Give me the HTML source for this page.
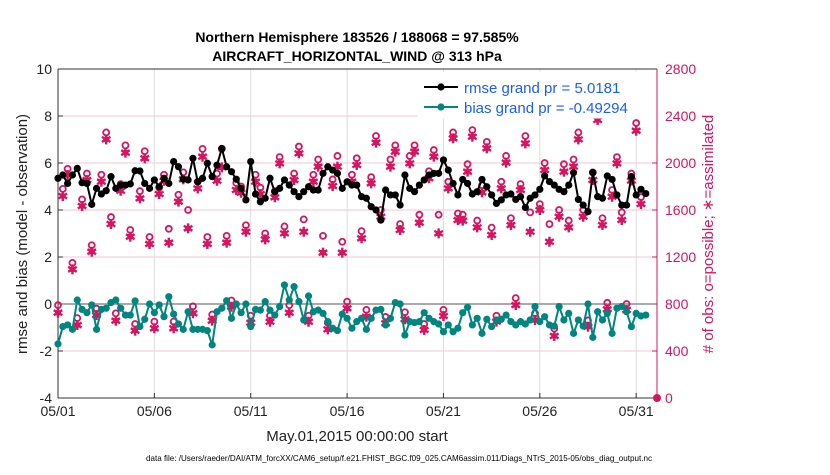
<!DOCTYPE html>
<html><head><meta charset="utf-8"><style>
body{margin:0;background:#fff;font-family:"Liberation Sans",Arial,sans-serif}
svg text{font-family:"Liberation Sans",Arial,sans-serif}
</style></head><body>
<svg id="chart" width="830" height="470" xmlns="http://www.w3.org/2000/svg"></svg>
<script>
const rmse=[5.35,5.49,5.13,5.49,5.77,5.16,5.13,4.24,4.92,4.68,4.82,5.42,4.92,5.06,5.06,5.11,5.67,5.66,5.13,4.92,5.28,4.99,5.35,5.13,6.06,5.84,5.31,5.28,6.2,5.2,5.35,5.99,5.42,5.91,6.62,5.84,5.63,5.31,4.92,4.43,6.06,4.68,4.35,
4.5,5.35,4.78,4.92,5.28,5.06,4.78,4.57,4.78,4.99,4.85,4.85,5.56,5.84,5.70,5.56,4.92,5.2,5.06,5.06,4.57,4.5,4.14,4.0,3.57,4.85,4.64,4.64,4.21,5.49,4.92,4.78,5.06,5.28,5.49,5.56,5.56,6.13,5.70,5.13,4.64,
5.3,5.13,4.68,4.78,5.3,4.99,4.64,4.28,4.43,4.64,4.68,4.45,4.57,4.11,4.5,4.64,4.88,5.45,5.21,5.06,4.88,4.78,5.06,5.59,4.45,4.21,3.93,5.59,4.57,4.5,5.45,5.3,4.64,4.21,4.21,5.42,4.64,4.88,4.70];
const bias=[-1.70,-0.96,-0.89,-1.08,0.17,-0.23,-0.37,-0.04,-1.08,-0.23,-0.18,0.06,0.17,-0.18,-0.47,-0.47,0.13,-0.96,-0.65,0.0,-0.37,-0.04,-0.54,0.31,-0.43,-0.85,-1.08,-0.33,-1.08,-1.08,-1.08,-1.13,-1.74,-0.33,-0.18,0.14,-0.61,0.0,-0.37,0.0,-0.96,-0.23,-0.26,
0.10,-0.26,-0.47,-0.11,0.81,0.17,0.74,0.10,-0.68,0.34,-0.33,-0.26,-0.40,-0.75,-1.03,-1.13,-0.43,-0.61,-1.03,-0.75,-0.61,-1.08,-0.61,-0.26,-0.23,-0.89,-0.61,0.06,0.0,-1.32,-0.75,-0.79,-0.75,-0.37,-0.61,-0.75,-0.85,-1.18,-0.89,-1.18,-1.03,
-0.37,-0.14,-0.89,-0.61,-1.25,-0.65,-0.96,-0.68,-0.65,-0.47,-0.75,-0.89,-0.75,-0.85,-0.68,-0.11,-0.75,-0.54,-0.89,-0.94,-0.11,-0.68,-0.40,-1.25,-0.68,-0.94,0.0,-1.42,-0.33,-0.68,-0.40,-1.25,-0.18,-0.11,-0.33,-0.96,-0.40,-0.51,-0.47];
const assim=[726,1719,1898,1095,621,1634,1855,1245,706,1841,2201,1481,658,1764,2088,1373,573,1699,2040,1311,593,1736,1849,1322,593,1671,1861,1444,721,1784,2054,1311,658,1849,1963,1322,777,1770,1747,1415,641,1841,1736,
1350,649,1708,1997,1401,726,1855,2082,1415,649,1841,1969,1237,584,1804,1969,1237,763,1841,1983,1359,692,1827,2173,1543,636,1969,2096,1430,670,1997,2096,1492,579,1870,2054,1401,698,1784,2210,1515,
1509,1926,2224,1452,1750,2125,1387,650,1784,2003,1472,791,1770,2167,1415,664,1600,1940,1330,528,1543,1926,1452,1969,2201,1543,607,1855,2366,1472,755,1713,1997,1515,749,1850,2275,1651];
const possible=[790,1780,1950,1150,680,1690,1910,1300,760,1900,2260,1540,720,1820,2150,1430,630,1760,2100,1370,650,1790,1900,1440,650,1730,1920,1600,780,1840,2120,1370,710,1910,2120,1380,830,1830,1800,1470,700,1900,1790,
1400,700,1760,2050,1460,790,1910,2140,1520,700,1900,2030,1380,640,1860,2060,1330,820,1900,2040,1420,750,1880,2230,1600,690,2030,2150,1480,730,2060,2150,1560,630,1930,2110,1560,750,1840,2260,1570,
1560,1990,2280,1510,1810,2180,1450,700,1840,2060,1530,850,1820,2230,1580,720,1650,2000,1480,590,1600,1990,1510,2030,2260,1600,660,1920,2420,1530,810,1770,2050,1580,800,1910,2340,1710];
const xTicks=["05/01","05/06","05/11","05/16","05/21","05/26","05/31"];
const yTicks=[-4,-2,0,2,4,6,8,10];
const rTicks=[0,400,800,1200,1600,2000,2400,2800];

const X0=58,X1=657,Y0=69,Y1=398,XMAX=31.08;
const xs=d=>X0+(d/XMAX)*(X1-X0);
const ys=v=>Y1-(v+4)/14*(Y1-Y0);
const yr=c=>Y1-c/2800*(Y1-Y0);
const svg=document.getElementById('chart');
const NS='http://www.w3.org/2000/svg';
function mk(t,a,p){const e=document.createElementNS(NS,t);for(const k in a)e.setAttribute(k,a[k]);(p||svg).appendChild(e);return e;}
const red='#d6145f',teal='#00857f';
mk('rect',{x:X0,y:Y0,width:X1-X0,height:Y1-Y0,fill:'#fff'});
const grid=mk('g',{});


xTicks.forEach((t,i)=>{const x=xs(i*5);mk('line',{x1:x,x2:x,y1:Y0,y2:Y1,stroke:'#ddd'},grid);
 mk('line',{x1:x,x2:x,y1:Y1,y2:Y1-5,stroke:'#333'},grid);
 const tx=mk('text',{x:x,y:Y1+18,'text-anchor':'middle','font-size':14,fill:'#222'});tx.textContent=t;
 
 });
rTicks.forEach(c=>{const y=yr(c);if(c>0&&c<2800)mk('line',{x1:X0,x2:X1,y1:y,y2:y,stroke:'#f5c6d6'},grid);
 mk('line',{x1:X1,x2:X1-5,y1:y,y2:y,stroke:red},grid);
 const tx=mk('text',{x:X1+8,y:y+5,'font-size':14,fill:red});tx.textContent=c;
 
 });
yTicks.forEach(v=>{const y=ys(v);mk('line',{x1:X0,x2:X0+5,y1:y,y2:y,stroke:'#333'},grid);
 const tx=mk('text',{x:X0-6,y:y+5,'text-anchor':'end','font-size':14,fill:'#222'});tx.textContent=v;
 
 });
mk('line',{x1:X0,x2:X1,y1:ys(0),y2:ys(0),stroke:'#aaa','stroke-width':2});
mk('line',{x1:X0,x2:X0,y1:Y0,y2:Y1,stroke:'#333'});
mk('line',{x1:X0,x2:X1,y1:Y1,y2:Y1,stroke:'#333'});
mk('line',{x1:X0,x2:X1,y1:Y0,y2:Y0,stroke:'#333'});
mk('line',{x1:X1,x2:X1,y1:Y0,y2:Y1,stroke:red});
const cg=mk('g',{});


possible.forEach((c,i)=>{const m=mk('circle',{cx:xs(i*0.25),cy:yr(c),r:3,fill:'none',stroke:red,'stroke-width':1.8},cg);
 
 });
assim.forEach((c,i)=>{const x=xs(i*0.25),y=yr(c);const m=mk('g',{},cg);
 
 
 [[0,5],[4.3,2.5],[4.3,-2.5]].forEach(([dx,dy])=>mk('line',{x1:x-dx,y1:y-dy,x2:x+dx,y2:y+dy,stroke:red,'stroke-width':2.4},m));
 mk('circle',{cx:x,cy:y,r:3,fill:red},m);});
mk('circle',{cx:X1,cy:Y1,r:4,fill:red});
function series(arr,col,name){const g=mk('g',{});
 
 
 mk('polyline',{points:arr.map((v,i)=>xs(i*0.25)+','+ys(v)).join(' '),fill:'none',stroke:col,'stroke-width':2},g);
 arr.forEach((v,i)=>{const c=mk('circle',{cx:xs(i*0.25),cy:ys(v),r:3.6,fill:col},g);
  
  });}
series(rmse,'#000','rmse-line');
series(bias,teal,'bias-line');
</script>
<svg width="830" height="470" style="position:absolute;left:0;top:0" xmlns="http://www.w3.org/2000/svg">
<g>
<rect x="418" y="72" width="238" height="46" fill="#fff" stroke="#fff"/>
<line x1="424" y1="87" x2="458" y2="87" stroke="#000" stroke-width="2"/><circle cx="441" cy="87" r="3.6" fill="#000"/>
<text x="464" y="93" font-size="15" fill="#1a5cff">rmse grand pr = 5.0181</text>
<line x1="424" y1="107" x2="458" y2="107" stroke="#00857f" stroke-width="2"/><circle cx="441" cy="107" r="3.6" fill="#00857f"/>
<text x="464" y="113" font-size="15" fill="#1a5cff">bias grand pr = -0.49294</text>
</g>
<text x="357" y="42" text-anchor="middle" font-size="14" font-weight="bold" fill="#000">Northern Hemisphere 183526 / 188068 = 97.585%</text>
<text x="357" y="61" text-anchor="middle" font-size="14" font-weight="bold" fill="#000">AIRCRAFT_HORIZONTAL_WIND @ 313 hPa</text>
<text transform="translate(27,234) rotate(-90)" text-anchor="middle" font-size="15" fill="#222">rmse and bias (model - observation)</text>
<text transform="translate(713,234) rotate(-90)" text-anchor="middle" font-size="15" fill="#d6145f"># of obs: o=possible; ∗=assimilated</text>
<text x="357" y="441" text-anchor="middle" font-size="15" fill="#222">May.01,2015 00:00:00 start</text>
<text x="399" y="461" text-anchor="middle" font-size="8.2" textLength="506" lengthAdjust="spacingAndGlyphs" fill="#000">data file: /Users/raeder/DAI/ATM_forcXX/CAM6_setup/f.e21.FHIST_BGC.f09_025.CAM6assim.011/Diags_NTrS_2015-05/obs_diag_output.nc</text>
</svg>
</body></html>
